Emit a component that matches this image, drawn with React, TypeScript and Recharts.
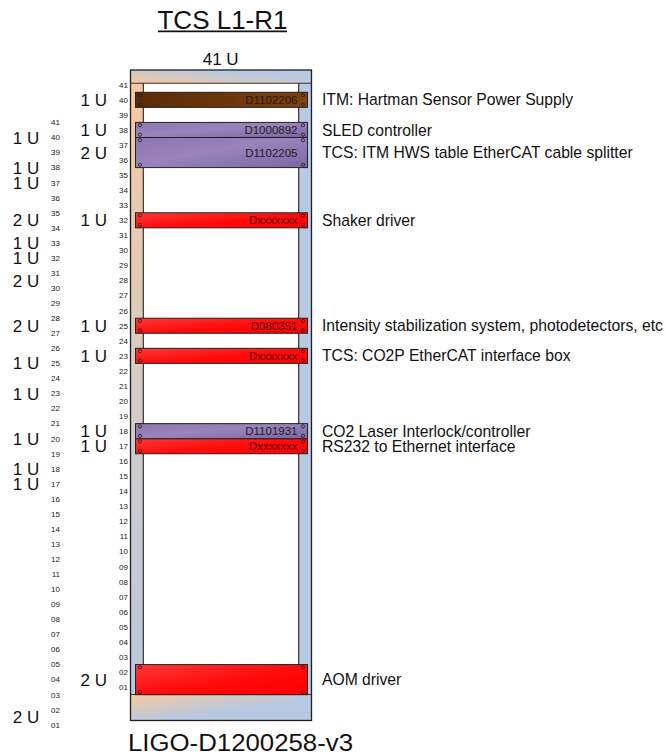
import React from 'react';
import { ComposedChart, Bar, XAxis, YAxis, LabelList } from 'recharts';

// rack contents, listed top-down; units counted from the bottom of the rack
const partNumbers = ['D1102206', 'D1000892', 'D1102205', 'Dxxxxxxx', 'D080351', 'Dxxxxxxx', 'D1101931', 'Dxxxxxxx', ''];
const descriptions = [
  'ITM: Hartman Sensor Power Supply',
  'SLED controller',
  'TCS: ITM HWS table EtherCAT cable splitter',
  'Shaker driver',
  'Intensity stabilization system, photodetectors, etc',
  'TCS: CO2P EtherCAT interface box',
  'CO2 Laser Interlock/controller',
  'RS232 to Ethernet interface',
  'AOM driver',
];
const bottomUnits = [39, 37, 35, 31, 24, 22, 17, 16, 0];
const unitHeights = [1, 1, 2, 1, 1, 1, 1, 1, 2];
const panelKinds = ['brown', 'purple', 'purple', 'red', 'red', 'red', 'purple', 'red', 'red'];

// left-most column of U sizes (on the shifted numbering)
const sideBottomUnits = [0, 16, 17, 19, 22, 24, 26, 29, 31, 32, 33, 36, 37, 39];
const sideHeights = [2, 1, 1, 1, 1, 1, 2, 2, 1, 1, 2, 1, 1, 1];

const RACK_UNITS = 41;
const unitTicks = Array.from({ length: RACK_UNITS }, (_, i) => i + 0.5);

// layout
const FONT = '"Liberation Sans", Arial, sans-serif';
const UNIT_PX = 15.06;
const PLOT_TOP = 60;
const PLOT_BOTTOM = 735;
const BASE_Y = 694.7;
const SIDE_SHIFT = 2.5;
const innerDomain = [(BASE_Y - PLOT_BOTTOM) / UNIT_PX, (BASE_Y - PLOT_TOP) / UNIT_PX];
const outerDomain = [innerDomain[0] + SIDE_SHIFT, innerDomain[1] + SIDE_SHIFT];
const frameRange = [(BASE_Y - 720.5) / UNIT_PX, (BASE_Y - 70) / UNIT_PX];

type Seg = { key: string; size: number; item: number };

function buildStack(prefix: string, bottoms: number[], heights: number[]): Seg[] {
  const order = bottoms.map((_, i) => i).sort((a, b) => bottoms[a] - bottoms[b]);
  const segs: Seg[] = [];
  let cursor = 0;
  order.forEach((i) => {
    if (bottoms[i] > cursor) {
      segs.push({ key: `${prefix}gap${segs.length}`, size: bottoms[i] - cursor, item: -1 });
    }
    segs.push({ key: `${prefix}${i}`, size: heights[i], item: i });
    cursor = bottoms[i] + heights[i];
  });
  return segs;
}

const devSegs = buildStack('dev', bottomUnits, unitHeights);
const sideSegs = buildStack('side', sideBottomUnits, sideHeights);

const row: Record<string, any> = { name: 'rack', frame: frameRange };
devSegs.forEach((s) => (row[s.key] = s.size));
sideSegs.forEach((s) => (row[s.key] = s.size));
const data = [row];

const unitLabel = (v: number) => String(Math.round(v + 0.5)).padStart(2, '0');

const textColor: Record<string, string> = { brown: '#2a1606', purple: '#1c1c1c', red: '#5a0000' };

const FrameShape = (props: any) => {
  const { x, y, width, height } = props;
  const top = 13.3;
  const bottom = 26;
  const post = 12.8;
  return (
    <g>
      <rect x={x} y={y} width={width} height={height} fill="#fff" />
      <rect x={x} y={y + top} width={post} height={height - top - bottom} fill="url(#leftPost)" />
      <rect x={x + width - post} y={y + top} width={post} height={height - top - bottom} fill="#b8c9e2" />
      <rect x={x} y={y} width={width} height={top} fill="url(#topBand)" />
      <rect x={x} y={y + height - bottom} width={width} height={bottom} fill="url(#bottomBand)" />
      <line x1={x} x2={x + width} y1={y + top} y2={y + top} stroke="#333" strokeWidth={1.1} />
      <line x1={x} x2={x + width} y1={y + height - bottom} y2={y + height - bottom} stroke="#333" strokeWidth={1.1} />
      <line x1={x + post} x2={x + post} y1={y + top} y2={y + height - bottom} stroke="#222" strokeWidth={1.1} />
      <line x1={x + width - post} x2={x + width - post} y1={y + top} y2={y + height - bottom} stroke="#222" strokeWidth={1.1} />
      <rect x={x} y={y} width={width} height={height} fill="none" stroke="#1f1f1f" strokeWidth={1.3} />
    </g>
  );
};

const panelShape = (kind: string) => (props: any) => {
  const { x, y, width, height } = props;
  const holes = [
    [x + 4.5, y + 2.8],
    [x + width - 4.5, y + 2.8],
    [x + 4.5, y + height - 2.8],
    [x + width - 4.5, y + height - 2.8],
  ];
  return (
    <g>
      <rect x={x} y={y} width={width} height={height} fill={`url(#${kind}Grad)`} stroke="#222" strokeWidth={1} />
      {holes.map(([cx, cy], k) => (
        <circle key={k} cx={cx} cy={cy} r={1.6} fill="none" stroke="#2a1a1a" strokeWidth={0.8} />
      ))}
    </g>
  );
};

const emptyShape = () => <g />;

const deviceLabels = (i: number) => (props: any) => {
  const vb = props.viewBox ?? props;
  const { x, y, width, height } = vb;
  const cy = y + height / 2;
  return (
    <g fontFamily={FONT}>
      <text x={x - 28.5} y={cy} dy="0.355em" textAnchor="end" fontSize={17} fill="#111">
        {`${unitHeights[i]} U`}
      </text>
      {partNumbers[i] && (
        <text x={x + width - 10} y={cy} dy="0.355em" textAnchor="end" fontSize={11.5} fill={textColor[panelKinds[i]]}>
          {partNumbers[i]}
        </text>
      )}
      <text x={x + width + 14.5} y={cy} dy="0.355em" fontSize={15.7} fill="#111">
        {descriptions[i]}
      </text>
    </g>
  );
};

const sideLabel = (i: number) => (props: any) => {
  const vb = props.viewBox ?? props;
  const { x, y, height } = vb;
  return (
    <text x={x - 96.2} y={y + height / 2} dy="0.355em" textAnchor="end" fontSize={17} fill="#111" fontFamily={FONT}>
      {`${sideHeights[i]} U`}
    </text>
  );
};

const tickStyle = { fontSize: 8, fill: '#1a1a1a', fontFamily: FONT };

export default function App() {
  return (
    <div style={{ position: 'absolute', top: 0, left: 0, width: 666, height: 756, background: '#fff' }}>
      <ComposedChart
        width={666}
        height={756}
        data={data}
        margin={{ top: PLOT_TOP, right: 354, bottom: 756 - PLOT_BOTTOM, left: 0.5 }}
        barCategoryGap={0}
      >
        <defs>
          <linearGradient id="redGrad" x1="0" y1="0" x2="1" y2="1">
            <stop offset="0%" stopColor="#ff3a3a" />
            <stop offset="55%" stopColor="#ff0a0a" />
            <stop offset="100%" stopColor="#ff0000" />
          </linearGradient>
          <linearGradient id="purpleGrad" x1="0" y1="0" x2="1" y2="1">
            <stop offset="0%" stopColor="#8a75ad" />
            <stop offset="45%" stopColor="#9985bb" />
            <stop offset="100%" stopColor="#7b66a2" />
          </linearGradient>
          <linearGradient id="brownGrad" x1="0" y1="0" x2="1" y2="0">
            <stop offset="0%" stopColor="#5a2a05" />
            <stop offset="100%" stopColor="#7e410f" />
          </linearGradient>
          <linearGradient id="topBand" x1="0" y1="1" x2="1" y2="0">
            <stop offset="0%" stopColor="#f6c89c" />
            <stop offset="70%" stopColor="#b7c9e3" />
          </linearGradient>
          <linearGradient id="bottomBand" x1="0" y1="0" x2="1" y2="1">
            <stop offset="0%" stopColor="#f6ca9f" />
            <stop offset="60%" stopColor="#b6c8e2" />
          </linearGradient>
          <linearGradient id="leftPost" x1="0" y1="0" x2="0" y2="1">
            <stop offset="0%" stopColor="#f7c99e" />
            <stop offset="55%" stopColor="#d3ccc9" />
            <stop offset="100%" stopColor="#b8c8e0" />
          </linearGradient>
        </defs>
        <XAxis xAxisId="frame" dataKey="name" hide />
        <XAxis xAxisId="dev" dataKey="name" hide />
        <XAxis xAxisId="side" dataKey="name" hide />
        <YAxis
          yAxisId="inner"
          type="number"
          domain={innerDomain}
          allowDataOverflow
          ticks={unitTicks}
          interval={0}
          width={70}
          tickSize={0}
          tickMargin={2.5}
          axisLine={false}
          tickLine={false}
          tickFormatter={unitLabel}
          tick={tickStyle}
        />
        <YAxis
          yAxisId="outer"
          type="number"
          domain={outerDomain}
          allowDataOverflow
          ticks={unitTicks}
          interval={0}
          width={60}
          tickSize={0}
          tickMargin={0.5}
          axisLine={false}
          tickLine={false}
          tickFormatter={unitLabel}
          tick={tickStyle}
        />
        <Bar xAxisId="frame" yAxisId="inner" dataKey="frame" barSize={181} shape={FrameShape} isAnimationActive={false} />
        {devSegs.map((s) => (
          <Bar
            key={s.key}
            xAxisId="dev"
            yAxisId="inner"
            dataKey={s.key}
            stackId="dev"
            barSize={172}
            shape={s.item >= 0 ? panelShape(panelKinds[s.item]) : emptyShape}
            isAnimationActive={false}
          >
            {s.item >= 0 && <LabelList content={deviceLabels(s.item)} />}
          </Bar>
        ))}
        {sideSegs.map((s) => (
          <Bar
            key={s.key}
            xAxisId="side"
            yAxisId="outer"
            dataKey={s.key}
            stackId="side"
            barSize={172}
            shape={emptyShape}
            isAnimationActive={false}
          >
            {s.item >= 0 && <LabelList content={sideLabel(s.item)} />}
          </Bar>
        ))}
      </ComposedChart>
      <svg width={666} height={756} style={{ position: 'absolute', top: 0, left: 0, pointerEvents: 'none' }}>
        <g fontFamily={FONT} fill="#111">
          <text x={222.5} y={29} textAnchor="middle" fontSize={26}>
            TCS L1-R1
          </text>
          <line x1={158} x2={287} y1={31.3} y2={31.3} stroke="#111" strokeWidth={1.8} />
          <text x={220.7} y={65} textAnchor="middle" fontSize={17}>
            41 U
          </text>
          <text x={128} y={751} fontSize={23} textLength={225} lengthAdjust="spacingAndGlyphs">
            LIGO-D1200258-v3
          </text>
        </g>
      </svg>
    </div>
  );
}
